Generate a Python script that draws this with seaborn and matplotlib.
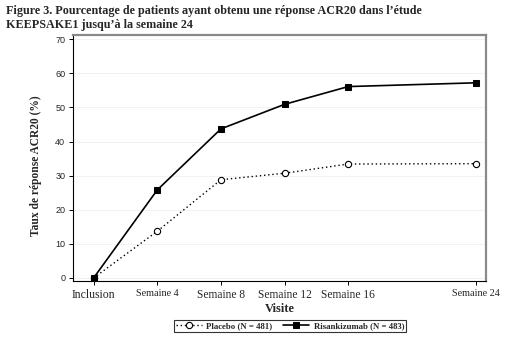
import matplotlib
matplotlib.use("Agg")
import matplotlib.pyplot as plt
import seaborn as sns
import pandas as pd

weeks = [0, 4, 8, 12, 16, 24]
tick_labels = ["Inclusion", "Semaine 4", "Semaine 8", "Semaine 12", "Semaine 16", "Semaine 24"]
placebo = [0, 13.7, 28.8, 30.7, 33.4, 33.5]
risankizumab = [0, 25.8, 43.7, 50.9, 56.1, 57.2]
series_names = ["Placebo (N = 481)", "Risankizumab (N = 483)"]

df = pd.concat([
    pd.DataFrame({"week": weeks, "val": placebo, "grp": series_names[0]}),
    pd.DataFrame({"week": weeks, "val": risankizumab, "grp": series_names[1]}),
])

sns.set_theme(style="white")
plt.rcParams['font.family'] = ['Liberation Serif', 'DejaVu Serif']

fig = plt.figure(figsize=(5.17, 3.37), dpi=100)
ax = fig.add_axes([0.141, 0.166, 0.799, 0.730])

sns.lineplot(data=df[df.grp == series_names[0]], x="week", y="val", ax=ax,
             color="black", linestyle=(0, (1, 2)), linewidth=1.0, marker="o",
             markersize=4.5, markerfacecolor="white", markeredgecolor="black",
             markeredgewidth=0.8, label=series_names[0])
sns.lineplot(data=df[df.grp == series_names[1]], x="week", y="val", ax=ax,
             color="black", linestyle="-", linewidth=1.2, marker="s",
             markersize=4.5, markerfacecolor="black", markeredgecolor="black",
             label=series_names[1])

ax.set_xlim(-1.3, 24.65)
ax.set_ylim(-0.9, 71.2)
ax.set_yticks(range(0, 71, 10))
ax.set_yticklabels([str(v) for v in range(0, 71, 10)], family="Liberation Sans", fontsize=6.5)
ax.set_xticks(weeks)
ax.set_xticklabels(tick_labels, fontsize=8)
for i, lab in enumerate(ax.get_xticklabels()):
    if i == 0:
        lab.set_fontsize(8.5)
    elif i == 1 or i == 5:
        lab.set_fontsize(7.3)
    else:
        lab.set_fontsize(8.3)
ax.tick_params(axis="both", length=3, width=0.7, color="black", pad=2.5, bottom=True, left=True)
ax.yaxis.grid(True, color="#f0f0f0", linewidth=0.6)
ax.set_axisbelow(True)

for s in ["left", "bottom"]:
    ax.spines[s].set_color("black")
    ax.spines[s].set_linewidth(0.8)
for s in ["top", "right"]:
    ax.spines[s].set_color("#8a8a8a")
    ax.spines[s].set_linewidth(1.6)

ax.set_xlabel("Visite", fontsize=9, fontweight="bold", labelpad=2)
ax.set_ylabel("Taux de réponse ACR20 (%)", fontsize=8.3, fontweight="bold")
ax.yaxis.set_label_coords(-0.074, 0.47)

ax.get_legend().remove()
handles, labels = ax.get_legend_handles_labels()
leg = fig.legend(handles, labels, loc="center", bbox_to_anchor=(290 / 517, 1 - 326 / 337), ncol=2,
                 frameon=True, fancybox=False, edgecolor="black",
                 handlelength=3, columnspacing=1.2, handletextpad=0.5,
                 borderpad=0.25, borderaxespad=0,
                 prop={"family": "Liberation Serif", "weight": "bold", "size": 6.3})
leg.get_frame().set_linewidth(0.8)

fig.text(0.012, 0.985, "Figure 3. Pourcentage de patients ayant obtenu une réponse ACR20 dans l\u2019étude\nKEEPSAKE1 jusqu\u2019à la semaine 24",
         fontsize=8.7, fontweight="bold", va="top", ha="left", linespacing=1.2)

fig.savefig("out.png", dpi=100, facecolor="white")
